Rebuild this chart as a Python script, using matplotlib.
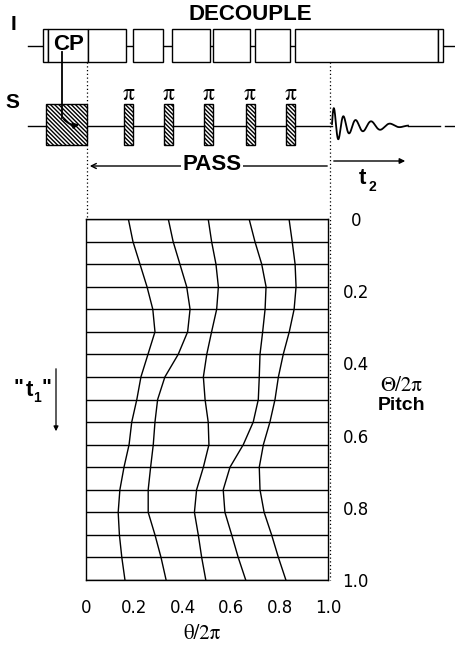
import numpy as np
import matplotlib.pyplot as plt
from matplotlib.patches import Rectangle

# rotor pitch levels (horizontal grid lines) and the five PASS trajectories
pitch = [0, 0.0625, 0.125, 0.1875, 0.25, 0.3125, 0.375, 0.4375, 0.5,
         0.5625, 0.625, 0.6875, 0.75, 0.8125, 0.875, 0.9375, 1.0]
curve1 = [0.175, 0.194, 0.223, 0.252, 0.276, 0.285, 0.256, 0.227, 0.21,
          0.189, 0.178, 0.157, 0.14, 0.133, 0.138, 0.148, 0.161]
curve2 = [0.34, 0.36, 0.388, 0.416, 0.43, 0.42, 0.381, 0.326, 0.296,
          0.285, 0.278, 0.267, 0.257, 0.257, 0.285, 0.31, 0.331]
curve3 = [0.505, 0.519, 0.537, 0.547, 0.54, 0.519, 0.499, 0.485, 0.492,
          0.505, 0.508, 0.485, 0.457, 0.448, 0.464, 0.478, 0.495]
curve4 = [0.674, 0.698, 0.726, 0.744, 0.74, 0.73, 0.719, 0.716, 0.712,
          0.691, 0.65, 0.595, 0.567, 0.574, 0.602, 0.629, 0.66]
curve5 = [0.839, 0.852, 0.864, 0.868, 0.86, 0.84, 0.815, 0.795, 0.781,
          0.76, 0.733, 0.716, 0.719, 0.736, 0.767, 0.795, 0.826]
ticks = [0, 0.2, 0.4, 0.6, 0.8, 1.0]
tick_labels = ['0', '0.2', '0.4', '0.6', '0.8', '1.0']

plt.rcParams['font.family'] = ['Liberation Sans', 'DejaVu Sans']
plt.rcParams['hatch.linewidth'] = 1.0
serif = ['STIXGeneral', 'DejaVu Serif']

fig = plt.figure(figsize=(4.55, 6.55), dpi=100)

# overlay in pixel coords for the pulse sequence sketch
ov = fig.add_axes([0, 0, 1, 1])
ov.set_xlim(0, 455)
ov.set_ylim(655, 0)
ov.axis('off')

lw = 1.0
hatch = '\\\\\\\\\\\\\\\\'
# I channel
ov.plot([28, 455], [46, 46], color='k', lw=lw, zorder=1)
for x0, x1 in [(43, 48), (48, 88), (88, 126), (133, 163), (172, 210),
               (213, 250), (255, 290), (295, 438), (438, 443)]:
    ov.add_patch(Rectangle((x0, 29), x1 - x0, 33, fc='white', ec='k', lw=lw, zorder=2))
ov.text(13, 25, 'I', fontsize=15, fontweight='bold', ha='center', va='center')
ov.text(250, 14, 'DECOUPLE', fontsize=16, fontweight='bold', ha='center', va='center')
ov.text(69, 44, 'CP', fontsize=16, fontweight='bold', ha='center', va='center', zorder=3)

# S channel
ov.plot([28, 332], [126, 126], color='k', lw=lw, zorder=1)
ov.plot([408, 440], [126, 126], color='k', lw=lw, zorder=1)
ov.plot([445, 455], [126, 126], color='k', lw=lw, zorder=1)
ov.text(12, 103, 'S', fontsize=15, fontweight='bold', ha='center', va='center')
ov.add_patch(Rectangle((46, 104), 41, 41, fc='white', ec='k', lw=lw,
                       hatch=hatch, zorder=2))
for xc in [128.5, 168.5, 208.5, 250, 290.5]:
    ov.add_patch(Rectangle((xc - 4.5, 104), 9, 41, fc='white', ec='k', lw=lw,
                           hatch=hatch, zorder=2))
    ov.text(xc, 94, 'π', fontsize=17, family=serif, ha='center', va='center')

# CP transfer line
ov.plot([62, 62], [52, 118], color='k', lw=1.3, zorder=3)
ov.annotate('', xy=(82, 124), xytext=(62, 117),
            arrowprops=dict(arrowstyle='-|>', color='k', lw=1.3, mutation_scale=8,
                            connectionstyle='arc3,rad=0.35'), zorder=3)

# FID (schematic, chirped decay)
t = np.linspace(0, 76, 600)
period = 8 + 12 * np.clip(t / 50, 0, 1)
phase = np.cumsum(2 * np.pi / period) * (t[1] - t[0])
amp = 20 * np.exp(-t / 14) + 3.5 * np.exp(-((t - 40) / 25) ** 2)
ov.plot(332 + t, 126 - amp * np.sin(phase), color='k', lw=1.3)

# dotted guides
ov.plot([87, 87], [62, 219], color='k', lw=0.9, ls=(0, (1, 2)))
ov.plot([330, 330], [62, 580], color='k', lw=0.9, ls=(0, (1, 2)))

# PASS arrow and t2 arrow
ov.annotate('', xy=(87, 166), xytext=(330, 166),
            arrowprops=dict(arrowstyle='->', color='k', lw=1.0, mutation_scale=9))
ov.text(212, 164, 'PASS', fontsize=16, fontweight='bold', ha='center', va='center',
        bbox=dict(fc='white', ec='none', pad=1))
ov.annotate('', xy=(408, 161), xytext=(331, 161),
            arrowprops=dict(arrowstyle='-|>', color='k', lw=1.0, mutation_scale=8))
ov.text(362, 178, 't', fontsize=16, fontweight='bold', ha='center', va='center')
ov.text(372, 187, '2', fontsize=10, fontweight='bold', ha='center', va='center')

# t1 label and arrow
ov.text(18, 388, '"', fontsize=15, fontweight='bold', ha='center', va='center')
ov.text(29, 391, 't', fontsize=16, fontweight='bold', ha='center', va='center')
ov.text(37, 398, '1', fontsize=10, fontweight='bold', ha='center', va='center')
ov.text(46, 388, '"', fontsize=15, fontweight='bold', ha='center', va='center')
ov.annotate('', xy=(56, 434), xytext=(56, 366),
            arrowprops=dict(arrowstyle='-|>', color='k', lw=0.9, mutation_scale=7))

# right-side labels
ov.text(401, 386, 'Θ/2π', fontsize=15, family=serif, ha='center', va='center')
ov.text(402, 405, 'Pitch', fontsize=14, fontweight='bold', ha='center', va='center')
ov.text(202, 634, 'θ/2π', fontsize=15, family=serif, ha='center', va='center')

# PASS trajectory grid
ax = fig.add_axes([86 / 455, 75 / 655, 242 / 455, 361 / 655])
ax.set_xlim(0, 1)
ax.set_ylim(1, 0)
ax.hlines(pitch, 0, 1, color='k', lw=lw)
for c in [curve1, curve2, curve3, curve4, curve5]:
    ax.plot(c, pitch, color='k', lw=lw)
for s in ax.spines.values():
    s.set_linewidth(lw)
ax.yaxis.tick_right()
ax.set_yticks(ticks)
ax.set_yticklabels(tick_labels, family='DejaVu Sans', fontsize=12, ha='center')
ax.set_xticks(ticks)
ax.set_xticklabels(tick_labels, family='DejaVu Sans', fontsize=12)
ax.tick_params(axis='y', length=0, pad=20)
ax.tick_params(axis='x', length=0, pad=14)
ax.patch.set_alpha(0)

fig.savefig('out.png', dpi=100)
